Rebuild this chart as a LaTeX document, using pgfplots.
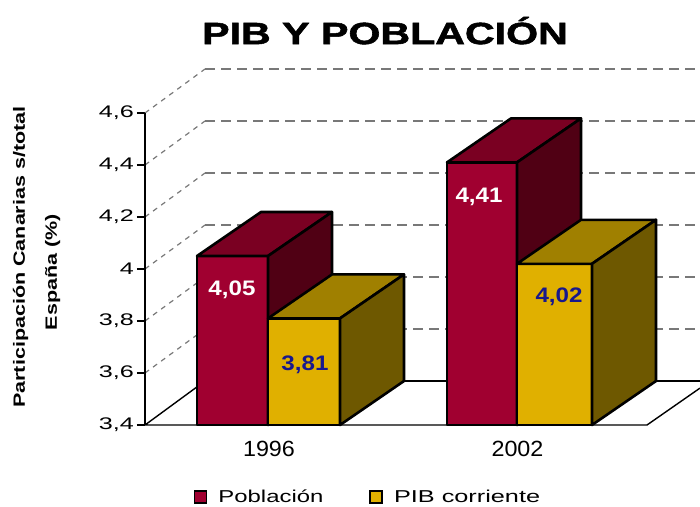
\documentclass[border=0pt]{standalone}
\usepackage{fontspec}
\setmainfont{Liberation Sans}
\newfontfamily\titlefont{Liberation Sans Bold}[FakeBold=1.6]
\usepackage{graphicx}
\usepackage{pgfplots}
\pgfplotsset{compat=1.18}

\definecolor{pobF}{RGB}{160,0,48}
\definecolor{pobT}{RGB}{122,0,34}
\definecolor{pobS}{RGB}{80,0,20}
\definecolor{pibF}{RGB}{224,176,0}
\definecolor{pibT}{RGB}{160,128,0}
\definecolor{pibS}{RGB}{110,88,0}
\definecolor{gridgray}{RGB}{120,120,120}
\definecolor{navy}{RGB}{24,24,140}

\newcommand{\depthx}{64}
\newcommand{\depthy}{0.1692}
% #1 left x, #2 right x, #3 value, #4 front, #5 top, #6 side
\newcommand{\tdbar}[6]{%
  \pgfmathsetmacro\xa{#1+\depthx}%
  \pgfmathsetmacro\xb{#2+\depthx}%
  \pgfmathsetmacro\yt{#3+\depthy}%
  \pgfmathsetmacro\yb{3.4+\depthy}%
  \edef\temp{%
    \noexpand\addplot[barface,fill=#4] coordinates {(#1,3.4) (#2,3.4) (#2,#3) (#1,#3)} -- cycle;
    \noexpand\addplot[barface,fill=#5] coordinates {(#1,#3) (#2,#3) (\xb,\yt) (\xa,\yt)} -- cycle;
    \noexpand\addplot[barface,fill=#6] coordinates {(#2,3.4) (\xb,\yb) (\xb,\yt) (#2,#3)} -- cycle;
  }\temp}

\begin{document}
\begin{tikzpicture}[x=1pt,y=1pt]
\path[use as bounding box] (-145,-81) rectangle (555,425);
\begin{axis}[
  at={(0,0)}, anchor=south west,
  scale only axis, width=555pt, height=356.2pt,
  xmin=145, xmax=700, ymin=3.4, ymax=4.77,
  clip=false,
  axis x line=none, axis y line*=left,
  y axis line style={draw=none},
  xtick=\empty,
  ytick={3.4,3.6,3.8,4,4.2,4.4,4.6},
  tick align=outside, major tick length=8pt,
  tick style={black, line width=1.2pt},
  yticklabel={\scalebox{1.5}[1]{\pgfmathprintnumber[fixed,precision=1,use comma,assume math mode=true]{\tick}}},
  yticklabel style={font=\fontsize{16.8}{18}\selectfont, anchor=east, inner sep=0pt, xshift=-3pt},
  barface/.style={draw=black, line width=2.6pt, line join=round, forget plot},
  gridh/.style={gridgray, line width=1.4pt, dash pattern=on 10pt off 6pt, forget plot},
  grido/.style={gridgray, line width=1.2pt, dash pattern=on 5pt off 5pt, forget plot},
  legend style={at={(0.4018,-0.2021)}, anchor=center, draw=none, fill=none,
    font=\fontsize{17.2}{19}\selectfont,
    /tikz/every odd column/.append style={column sep=9pt},
    /tikz/every even column/.append style={column sep=44pt}},
  legend columns=2,
]
% back wall gridlines
\addplot[grido] coordinates {(145,3.6) (205,3.7692)};
\addplot[grido] coordinates {(145,3.8) (205,3.9692)};
\addplot[grido] coordinates {(145,4.0) (205,4.1692)};
\addplot[grido] coordinates {(145,4.2) (205,4.3692)};
\addplot[grido] coordinates {(145,4.4) (205,4.5692)};
\addplot[grido] coordinates {(145,4.6) (205,4.7692)};
\addplot[gridh] coordinates {(205,3.7692) (700,3.7692)};
\addplot[gridh] coordinates {(205,3.9692) (700,3.9692)};
\addplot[gridh] coordinates {(205,4.1692) (700,4.1692)};
\addplot[gridh] coordinates {(205,4.3692) (700,4.3692)};
\addplot[gridh] coordinates {(205,4.5692) (700,4.5692)};
\addplot[gridh] coordinates {(205,4.7692) (700,4.7692)};
% floor
\addplot[black, line width=1.4pt, forget plot] coordinates {(205,3.5692) (145,3.4) (647,3.4) (700,3.542)};
\addplot[black, line width=1.4pt, forget plot] coordinates {(205,3.5692) (700,3.5692)};
% y axis line
\addplot[black, line width=1.4pt, forget plot] coordinates {(145,3.4) (145,4.6)};
% bars
\tdbar{197}{268}{4.05}{pobF}{pobT}{pobS}
\tdbar{268}{340}{3.81}{pibF}{pibT}{pibS}
\tdbar{447}{517}{4.41}{pobF}{pobT}{pobS}
\tdbar{517}{592}{4.02}{pibF}{pibT}{pibS}
% value labels
\node[anchor=base, white, font=\fontsize{21}{24}\selectfont\bfseries] at (axis cs:232,4.05) [yshift=-39pt] {\scalebox{1.15}[1]{4,05}};
\node[anchor=base, navy, font=\fontsize{21}{24}\selectfont\bfseries] at (axis cs:305,3.81) [yshift=-51.6pt] {\scalebox{1.15}[1]{3,81}};
\node[anchor=base, white, font=\fontsize{21}{24}\selectfont\bfseries] at (axis cs:479,4.41) [yshift=-40.6pt] {\scalebox{1.15}[1]{4,41}};
\node[anchor=base, navy, font=\fontsize{21}{24}\selectfont\bfseries] at (axis cs:559,4.02) [yshift=-39pt] {\scalebox{1.15}[1]{4,02}};
% category labels
\node[anchor=base, font=\fontsize{22}{24}\selectfont] at (axis cs:269,3.277) {\scalebox{1.06}[1]{1996}};
\node[anchor=base, font=\fontsize{22}{24}\selectfont] at (axis cs:517.5,3.277) {\scalebox{1.06}[1]{2002}};
% title
\node[anchor=base, font=\fontsize{30.7}{34}\titlefont] at (axis cs:385,4.865) {\scalebox{1.34}[1]{PIB Y POBLACIÓN}};
% y label
\node[rotate=90, anchor=base, font=\fontsize{16.3}{18}\selectfont\bfseries] at (axis cs:25,4.046) {\scalebox{1.32}[1]{Participación Canarias s/total}};
\node[rotate=90, anchor=base, font=\fontsize{16.3}{18}\selectfont\bfseries] at (axis cs:57,3.988) {\scalebox{1.32}[1]{España (\%)}};
% legend
\addlegendimage{legend image code/.code={\draw[black,line width=1.6pt,fill=pobF] (-6pt,-6pt) rectangle (6pt,6pt);}}
\addlegendentry{\scalebox{1.39}[1]{Población}}
\addlegendimage{legend image code/.code={\draw[black,line width=1.6pt,fill=pibF] (-6pt,-6pt) rectangle (6pt,6pt);}}
\addlegendentry{\scalebox{1.47}[1]{PIB corriente}}
\end{axis}
\end{tikzpicture}
\end{document}
